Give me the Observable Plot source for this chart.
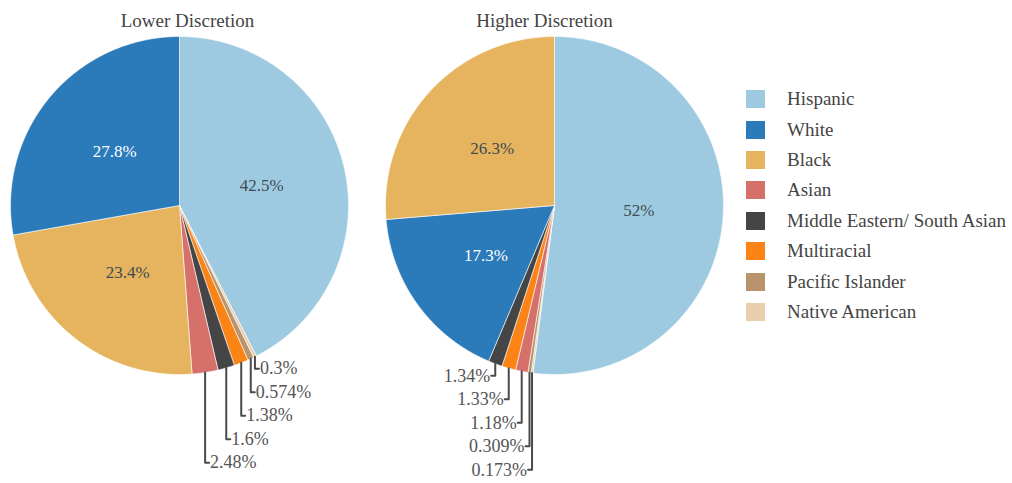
<!DOCTYPE html>
<html><head><meta charset="utf-8">
<script src="https://cdn.jsdelivr.net/npm/d3@7"></script>
<script src="https://cdn.jsdelivr.net/npm/@observablehq/plot@0.6"></script>
<style>
body{margin:0;background:#fff;}
#wrap{position:relative;width:1012px;height:483px;overflow:hidden;}
#chart{position:absolute;left:0;top:0;}
#chart svg text{font-family:"Liberation Serif",serif !important;}
#legend{position:absolute;left:746px;top:84px;width:266px;}
#legend, #legend *{font-family:"Liberation Serif",serif !important;font-size:19px !important;color:#444 !important;}
#legend > *{margin:0 !important;}
#legend .lg-swatch{height:30.4px;padding-bottom:0;display:flex;align-items:center;}
#legend .lg-swatch svg{margin-right:22px !important;}
</style></head><body>
<div id="wrap"><div id="chart"></div><div id="legend"></div></div>
<script>
// ---- data ----
const categories = ["Hispanic","White","Black","Asian","Middle Eastern/ South Asian","Multiracial","Pacific Islander","Native American"];
const colors = ["#9ecae1","#2b7bba","#e6b45e","#d5706a","#454545","#fc8416","#b8936b","#e9cfae"];
const panels = ["Lower Discretion","Higher Discretion"];
// slices listed clockwise from 12 o'clock
const lowerCats = ["Hispanic","Native American","Pacific Islander","Multiracial","Middle Eastern/ South Asian","Asian","Black","White"];
const lowerValues = [42.5,0.3,0.574,1.38,1.6,2.48,23.4,27.8];
const higherCats = ["Hispanic","Native American","Pacific Islander","Asian","Multiracial","Middle Eastern/ South Asian","White","Black"];
const higherValues = [52,0.173,0.309,1.18,1.33,1.34,17.3,26.3];

// ---- layout constants ----
const R = 169;           // pie radius in px (x/y domain [-1,1])
const W = 735, H = 483, mT = 36, mB = H - mT - 2*R;
const lightText = new Set(["White"]);

// ---- derive geometry from data ----
const polys = [], inside = [], outside = [], leaders = [];
function build(panel, cats, vals){
  const total = d3.sum(vals);
  let acc = 0;
  const small = [];
  cats.forEach((c,i)=>{
    const a0 = acc/total*2*Math.PI; acc += vals[i];
    const a1 = acc/total*2*Math.PI;
    const key = panel+"|"+c;
    polys.push({panel,key,category:c,x:0,y:0});
    const n = Math.max(2, Math.ceil((a1-a0)/(Math.PI/360)));
    for(let k=0;k<=n;k++){const a=a0+(a1-a0)*k/n; polys.push({panel,key,category:c,x:Math.sin(a),y:Math.cos(a)});}
    polys.push({panel,key,category:c,x:0,y:0});
    const am = (a0+a1)/2, label = vals[i]+"%";
    if (vals[i] >= 3) inside.push({panel,category:c,label,x:0.5*Math.sin(am),y:0.5*Math.cos(am)});
    else small.push({panel,key,category:c,label,ax:Math.sin(am),ay:Math.cos(am)});
  });
  small.sort((a,b)=>b.ay-a.ay);
  let prev = Infinity;
  small.forEach(s=>{
    s.ly = Math.min(s.ay - 12/R, prev - 23.5/R); prev = s.ly;
    const side = s.ax >= 0 ? 1 : -1;
    s.side = side;
    s.tx = s.ax + side*4/R;
    leaders.push({panel,key:s.key,x:s.ax,y:s.ay},{panel,key:s.key,x:s.ax,y:s.ly},{panel,key:s.key,x:s.tx,y:s.ly});
    outside.push(s);
  });
}
build(panels[0], lowerCats, lowerValues);
build(panels[1], higherCats, higherValues);

const titleStyle = {fx: d=>d, text: d=>d, frameAnchor: "top", lineAnchor: "bottom", dy: -10, fontSize: 19, fill: "#444"};

const chart = Plot.plot({
  width: W, height: H,
  marginLeft: 10, marginRight: 12, marginTop: mT, marginBottom: mB,
  style: {fontFamily: "'Liberation Serif', serif", background: "white"},
  x: {domain: [-1,1], axis: null},
  y: {domain: [-1,1], axis: null},
  fx: {domain: panels, padding: 37/375, axis: null},
  color: {domain: categories, range: colors},
  marks: [
    Plot.text([panels[0]], {...titleStyle, dx: 8}),
    Plot.text([panels[1]], {...titleStyle, dx: -10}),
    Plot.line(polys, {fx: "panel", x: "x", y: "y", z: "key", fill: "category", stroke: "white", strokeWidth: 0.6, curve: "linear"}),
    Plot.line(leaders, {fx: "panel", x: "x", y: "y", z: "key", stroke: "#4a4a4a", strokeWidth: 2, curve: "linear"}),
    Plot.text(inside.filter(d=>!lightText.has(d.category)), {fx:"panel", x:"x", y:"y", text:"label", fill:"#3f4a52", fontSize:17}),
    Plot.text(inside.filter(d=>lightText.has(d.category)), {fx:"panel", x:"x", y:"y", text:"label", fill:"white", fontSize:17}),
    Plot.text(outside.filter(d=>d.side>0), {fx:"panel", x:"tx", y:"ly", text:"label", textAnchor:"start", dx:1, fill:"#555", fontSize:18}),
    Plot.text(outside.filter(d=>d.side<0), {fx:"panel", x:"tx", y:"ly", text:"label", textAnchor:"end", dx:-1, fill:"#555", fontSize:18})
  ]
});
document.getElementById("chart").appendChild(chart);

const legend = Plot.legend({
  color: {domain: categories, range: colors},
  legend: "swatches", columns: 1, swatchWidth: 19, swatchHeight: 18, className: "lg"
});
document.getElementById("legend").appendChild(legend);
</script>
</body></html>
